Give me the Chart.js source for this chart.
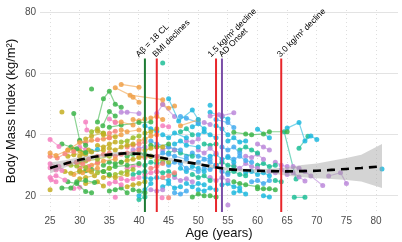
<!DOCTYPE html>
<html>
<head>
<meta charset="utf-8">
<script src="https://cdn.jsdelivr.net/npm/chart.js@4"></script>
<style>
  html, body { margin: 0; padding: 0; background: #fff; }
</style>
</head>
<body>
<canvas id="bmi" width="402" height="242"></canvas>
<script>
// axis ticks
const xTicks = [25, 30, 35, 40, 45, 50, 55, 60, 65, 70, 75, 80];
const yTicks = [20, 40, 60, 80];

// smooth fit (loess) and its confidence band
const loessAge = [25, 27.5, 30, 32.5, 35, 37.5, 40, 42.5, 45, 47.5, 50, 52.5, 55, 57.5, 60, 62.5, 65, 67.5, 70, 72.5, 75, 77.5, 81];
const loessFit = [29.1, 30.5, 31.8, 32.8, 33.5, 33.9, 33.8, 33.0, 32.0, 31.2, 30.4, 29.5, 28.7, 28.4, 28.2, 28.1, 28.0, 28.1, 28.2, 28.5, 28.8, 29.1, 29.7];
const loessLo  = [27.3, 29.3, 30.9, 32.1, 32.9, 33.3, 33.2, 32.4, 31.4, 30.7, 29.9, 29.0, 28.2, 27.9, 27.6, 27.3, 26.6, 26.1, 25.8, 25.5, 25.2, 24.7, 22.6];
const loessHi  = [30.9, 31.7, 32.7, 33.5, 34.1, 34.5, 34.4, 33.6, 32.6, 31.7, 30.9, 30.0, 29.2, 28.9, 28.8, 28.9, 29.4, 30.1, 30.6, 31.5, 32.4, 33.5, 37.0];

// event markers
const markerAge   = [41, 43, 53, 54, 64];
const markerLabel = ['A\u03b2 = 18 CL', 'BMI declines', '1.5 kg/m\u00b2 decline', 'AD Onset', '3.0 kg/m\u00b2 decline'];
const markerKind  = ['amyloid', 'bmi', 'bmi', 'onset', 'bmi'];
const markerTop = 65;

// participants: colour group, then age/BMI pairs per visit
const subjects = [
  ['P', [25,38.5, 26.5,36.2]],
  ['O', [25,34, 26,33.2, 28,35, 30,37.5, 32,38.2]],
  ['S', [25,33, 26.2,32.4, 27.5,33.8, 29,34.5]],
  ['P', [25,30.5, 26.5,29.6]],
  ['P', [25,29.2, 26,28.5, 27,28.3]],
  ['P', [25,26, 26,26.6, 27.5,25.2]],
  ['P', [25.2,25.3, 26,24.6]],
  ['Y', [25,22]],
  ['G', [27,37, 28.5,36, 29.5,35.4, 31,34.2]],
  ['Y', [27,47.5]],
  ['G', [29,47, 30,38.2, 31,36.6]],
  ['G', [27,22.6, 28.5,22.6, 29.5,24.6, 31,25, 32.5,24.4]],
  ['Y', [27.5,28, 28.5,27.4, 30,28.2, 32,27.8]],
  ['Y', [28,33, 29,33.5, 30.5,34, 31.5,35]],
  ['S', [28,30.6, 29.5,31, 30.5,30.4, 31.5,32]],
  ['Y', [28,35, 29,35.2, 30,34.8]],
  ['L', [28.5,30, 29.5,29.8, 31,29.4]],
  ['G', [28,24.6, 29.5,24, 31,21.4, 32,21]],
  ['P', [29,22.4, 30,22.8]],
  ['O', [29,27, 30.5,27.6, 31.5,28.4, 33,29]],
  ['P', [31,44.2, 31.2,41.6]],
  ['S', [30,38, 31,37.4, 33,38.4, 35,39]],
  ['G', [32,55]],
  ['G', [33,44.2, 34,51.8, 35,54.3, 36,50, 37,49]],
  ['Y', [33,41.2, 34,40, 36,39.4]],
  ['G', [33.9,43, 35,47.6, 36,46.2]],
  ['P', [35,45.2, 36,44]],
  ['O', [36,55.4, 38.5,53, 44,51.5]],
  ['O', [37,56.5, 40,55.6]],
  ['O', [36,44.2, 37,44.2, 39,43.2]],
  ['V', [37,47.4, 38,47.4, 40,47]],
  ['G', [35,42.5, 37,43.2, 40,44, 42,44.2]],
  ['Y', [30,33, 31,33.6, 32,34.4, 34,35]],
  ['L', [30,31, 31,31.4, 33,32, 35,33]],
  ['S', [30,29, 31.5,29.6, 33,31]],
  ['G', [30,28, 31,28.2, 32,28.6, 34,28, 35,27]],
  ['Y', [30,25.6, 31,26, 32.5,26.6]],
  ['P', [30,36, 31,35.2]],
  ['V', [29.4,31, 30.5,31.6]],
  ['C', [32,34.6, 33,35.2]],
  ['Y', [31,24, 33,24.6, 34,23.2]],
  ['O', [32,30, 33,30.6, 34,31.4, 36,32]],
  ['Y', [33,36.5, 34,36, 35,37, 36,37.6]],
  ['S', [33,33, 34,33.6, 35,34]],
  ['L', [33,27.6, 34,28, 35,29]],
  ['G', [34,30, 35,31, 36,30.6, 37,31]],
  ['Y', [34,26, 35,26.6, 36,26, 38,27]],
  ['O', [34,38.6, 35,39, 37,40]],
  ['P', [35,24, 36,24.6, 37,23.6]],
  ['P', [36,19.5]],
  ['G', [35,21.6, 36,22, 37,22.6, 38,21]],
  ['Y', [35,35.6, 36,35, 37,36, 38,36.6, 39,37]],
  ['G', [35,29, 36,29.6, 38,30, 40,30.6]],
  ['S', [36,33, 37,33.6, 38,34, 40,35]],
  ['L', [36,27, 37,27.6, 38,28, 39,28.6]],
  ['Y', [37,31, 38,31.6, 39,32, 40,32.6, 42,33]],
  ['L', [37,37.6, 38,38, 39,39, 40,39.6]],
  ['P', [37,25.6, 38,25, 39,25.6, 40,26]],
  ['O', [37,41.6, 38,41, 40,41.6]],
  ['S', [38,36, 39,36.6, 40,37, 41,37.6]],
  ['G', [38,33, 39,33.6, 40,34, 41,33.6, 42,33]],
  ['Y', [38,23, 39,23.6, 40,24, 41,24.6]],
  ['P', [38,29, 39,29.6, 40,30]],
  ['T', [39,27, 40,27.6, 41,28]],
  ['O', [39,45, 40,44.6, 41,45.2]],
  ['G', [39,22, 40,21.6, 41,21]],
  ['V', [39,35, 40,35.6, 41,36]],
  ['O', [39,52.3, 40,50.7]],
  ['L', [32,41, 33,42, 34,40.4]],
  ['S', [35,40.5, 36,41.2]],
  ['Y', [31,38.6, 32,39.6, 34,40.6]],
  ['O', [40,38, 41,38.6, 42,39.6, 43,40]],
  ['S', [40,33, 41,32.6, 43,33]],
  ['Y', [41,35, 42,35.6, 44,36]],
  ['S', [42,29, 43,29.6, 44,30.6]],
  ['P', [41,27, 42,27.6, 43,28]],
  ['O', [42,45.5, 43,46, 44,45]],
  ['Y', [41,40.6, 42,41, 43,42]],
  ['L', [43,31.6, 44,32, 45,31]],
  ['G', [42,36.6, 43,36, 45,37]],
  ['P', [44,43, 45,42.6]],
  ['S', [44,26, 45,26.6, 46,27.6]],
  ['T', [44,63.5]],
  ['C', [45,51.8, 46.7,44.5, 49,48.1, 50,45]],
  ['C', [52,49.7]],
  ['V', [52,46.2, 53.5,46.6]],
  ['O', [47,43, 50,44.9]],
  ['V', [43,47, 44,49.9, 46,46]],
  ['O', [44,50, 45,48.7, 46,49.4]],
  ['V', [54,46.3, 56,47.2]],
  ['C', [40,20, 41,22, 42,24]],
  ['T', [40,18.8, 41,19.6]],
  ['C', [41,43, 42,42, 43,41.2]],
  ['B', [42,38, 43,37, 45,36, 47,35]],
  ['T', [41,30, 42,31, 43,30.6, 44,31]],
  ['C', [41,26, 42,25.6, 43,26, 45,25]],
  ['V', [42,22, 43,21.6, 44,22]],
  ['B', [43,33, 44,34, 45,33.6, 46,33, 48,32]],
  ['T', [43,28, 44,27.6, 45,28, 46,27]],
  ['C', [44,40, 45,39, 46,40.6, 48,39]],
  ['V', [44,35, 45,36, 46,35]],
  ['C', [44,23, 45,24, 46,22.6, 47,23]],
  ['P', [43.9,19.4]],
  ['S', [45,19.4]],
  ['B', [45,30, 46,31, 47,30.6, 48,29, 50,28]],
  ['T', [45,34, 46,35, 47,34, 49,33]],
  ['C', [46,37, 47,38, 48,36.6, 50,36]],
  ['V', [46,26, 47,25, 48,25.6, 49,24.6]],
  ['B', [46,21, 47,20.6, 48,21.6]],
  ['C', [47,29, 48,28, 49,29.6, 50,29, 51,28]],
  ['T', [47,41, 48,42, 49,40]],
  ['B', [47,46, 48,45.4, 50,44]],
  ['C', [49,42.6, 50,43.6, 51,42]],
  ['V', [51,44, 52,43.4]],
  ['B', [53,45, 55,44, 56,42.4]],
  ['C', [52,47.4, 54,46, 55,45.2]],
  ['B', [48,33, 49,34, 50,33, 52,32]],
  ['V', [48,38, 49,37.6, 50,38.6]],
  ['C', [48,24, 49,23, 50,24, 51,23.6]],
  ['G', [49,19.6, 50,20.6, 51,20]],
  ['T', [49,27, 50,26, 51,26.6, 52,25]],
  ['C', [50,40, 51,41, 52,40, 53,39]],
  ['B', [50,31, 51,32, 52,31, 53,30]],
  ['V', [50,35, 51,34, 52,35.6, 53,34]],
  ['C', [50,22, 51,21.6, 52,22.6, 53,22]],
  ['T', [51,37, 52,36.6, 53,37]],
  ['B', [51,29, 52,28.6, 53,29.6, 54,28, 55,27]],
  ['C', [52,33, 53,33.6, 54,32, 55,32.6, 56,31]],
  ['V', [52,26, 53,25, 54,26, 55,25]],
  ['G', [52,20, 53,19.6]],
  ['C', [53,43, 54,42, 55,40]],
  ['T', [53,30, 54,31, 55,30, 56,29.6]],
  ['B', [54,36, 55,35, 56,36, 57,34]],
  ['C', [54,23.6, 55,24, 56,23, 57,22.6]],
  ['V', [55,17]],
  ['C', [55,38, 56,39, 57,37.6, 58,38]],
  ['T', [55,27.6, 56,28, 57,27, 58,26.6]],
  ['B', [55,33, 56,32, 57,33, 58,31.6, 59,31]],
  ['V', [56,30, 57,29, 58,30.6, 59,29.6, 60,29]],
  ['C', [56,21, 57,21.6, 58,20.6]],
  ['G', [56,24.6, 57,24, 58,23.6, 60,23]],
  ['T', [57,35, 58,36, 59,35, 60,34]],
  ['C', [58,27.6, 59,28, 60,27, 61,27.6, 62,26.6]],
  ['V', [58,33, 59,32.6, 60,33.6, 61,32]],
  ['B', [59,24.6, 60,25, 61,24, 62,25]],
  ['T', [60,30, 61,30.6, 62,29.6, 63,30]],
  ['V', [60,37, 61,36, 62,35]],
  ['G', [60,22.3, 61,22.3, 62,22.3, 63,22]],
  ['C', [61,20, 62,19.6]],
  ['V', [62,28, 63,27.6, 64,28.6, 65,27]],
  ['T', [63,25, 64,24.6]],
  ['V', [63,31, 64,30, 65,29.6]],
  ['V', [65,28, 66,27.6, 67,26.2, 68,24.9]],
  ['V', [66,29.6, 67,29, 68,28, 69,26.5, 71,23.4]],
  ['V', [72,26.5, 74,27.6, 75,24]],
  ['T', [66.2,19.5, 68,19.5]],
  ['C', [81,28.8]],
  ['G', [56,40.8, 58,40.3, 59,40, 61,40.3, 62,41, 65,41]],
  ['C', [60,41.8, 62,39]],
  ['C', [65,42.2, 67,44, 68,38, 69,39.6, 70,38.5]],
  ['T', [64.5,41, 66.5,25.5]],
  ['T', [67,35.6, 68.5,39.5]]
];

const groupColour = {
  P: '#F47FBF', S: '#F8837A', O: '#F0A048', Y: '#C4AE22', L: '#9DBE2C',
  G: '#3DB54B', T: '#1EBE96', C: '#1FB9DE', B: '#45ACEF', V: '#BC8ADA'
};
const markerColour = { amyloid: '#1E7B34', bmi: '#E8262B', onset: '#7B4FA8' };
// label nudges (px) so neighbouring labels do not collide
const labelNudge = [-6, -1, -5, 0, -1];

const yMin = 14.7, yMax = 80.9;

function rgba(hex, a) {
  const n = parseInt(hex.slice(1), 16);
  return `rgba(${n >> 16}, ${(n >> 8) & 255}, ${n & 255}, ${a})`;
}

function toPoints(flat) {
  const pts = [];
  for (let i = 0; i < flat.length; i += 2) pts.push({ x: flat[i], y: flat[i + 1] });
  return pts;
}

const datasets = [];

// dashed fit on top
datasets.push({
  data: loessAge.map((a, i) => ({ x: a, y: loessFit[i] })),
  showLine: true, borderColor: '#000', borderWidth: 2.6, borderDash: [8, 6],
  pointRadius: 0, order: 0
});

// vertical markers
markerAge.forEach((a, i) => {
  datasets.push({
    data: [{ x: a, y: yMin }, { x: a, y: markerTop }],
    showLine: true, borderColor: markerColour[markerKind[i]], borderWidth: 2,
    pointRadius: 0, order: 1
  });
});

// confidence band
datasets.push({
  data: loessAge.map((a, i) => ({ x: a, y: loessHi[i] })),
  showLine: true, borderWidth: 0, pointRadius: 0,
  backgroundColor: 'rgba(160, 160, 160, 0.45)', fill: '+1', order: 2
});
datasets.push({
  data: loessAge.map((a, i) => ({ x: a, y: loessLo[i] })),
  showLine: true, borderWidth: 0, pointRadius: 0, order: 2
});

subjects.forEach(([g, flat]) => {
  const c = groupColour[g];
  datasets.push({
    data: toPoints(flat),
    showLine: true, borderColor: rgba(c, 0.6), borderWidth: 1.2,
    pointRadius: 2.5, pointBorderWidth: 0, pointBackgroundColor: rgba(c, 0.85),
    order: 3
  });
});

const markerLabels = {
  id: 'markerLabels',
  afterDatasetsDraw(chart) {
    const { ctx, scales: { x, y } } = chart;
    ctx.save();
    ctx.font = '8.5px "Liberation Sans", Arial, sans-serif';
    ctx.fillStyle = '#000';
    ctx.textAlign = 'left';
    ctx.textBaseline = 'alphabetic';
    markerAge.forEach((a, i) => {
      ctx.save();
      ctx.translate(x.getPixelForValue(a) + labelNudge[i], y.getPixelForValue(markerTop) - 1);
      ctx.rotate(-Math.PI / 4);
      ctx.fillText(markerLabel[i], 0, 0);
      ctx.restore();
    });
    ctx.restore();
  }
};

new Chart(document.getElementById('bmi'), {
  type: 'scatter',
  data: { datasets },
  options: {
    responsive: false,
    animation: false,
    devicePixelRatio: 1,
    layout: { padding: { top: 0, right: 2, bottom: 0, left: 0 } },
    plugins: { legend: { display: false }, tooltip: { enabled: false } },
    scales: {
      x: {
        type: 'linear', min: 23.3, max: 83.7,
        afterBuildTicks: s => { s.ticks = xTicks.map(v => ({ value: v })); },
        afterFit: s => { s.height = 30; },
        ticks: { color: '#4d4d4d', font: { size: 10, family: '"Liberation Sans", Arial, sans-serif' }, padding: 3, maxRotation: 0 },
        grid: { color: '#dedede', drawTicks: false, lineWidth: 1 },
        border: { display: false, dash: [1, 3] },
        title: { display: true, text: 'Age (years)', color: '#111', font: { size: 13, family: '"Liberation Sans", Arial, sans-serif' }, padding: { top: 0, bottom: 0.5 } }
      },
      y: {
        type: 'linear', min: yMin, max: yMax,
        afterBuildTicks: s => { s.ticks = yTicks.map(v => ({ value: v })); },
        afterFit: s => { s.width = 40; },
        ticks: { color: '#4d4d4d', font: { size: 10, family: '"Liberation Sans", Arial, sans-serif' }, padding: 4 },
        grid: { color: '#e3e3e3', drawTicks: false, lineWidth: 1 },
        border: { display: false },
        title: { display: true, text: 'Body Mass Index (kg/m\u00b2)', color: '#111', font: { size: 13, family: '"Liberation Sans", Arial, sans-serif' }, padding: { top: 4, bottom: 0 } }
      }
    }
  },
  plugins: [markerLabels]
});
</script>
</body>
</html>
